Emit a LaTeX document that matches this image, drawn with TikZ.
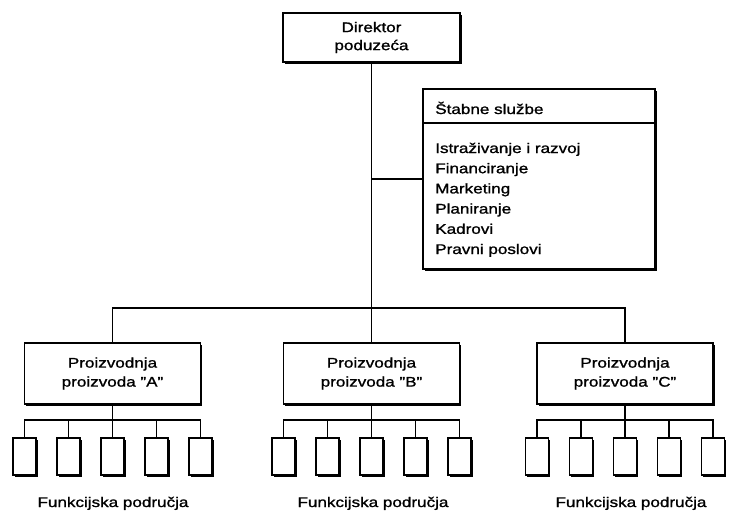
\documentclass[tikz,border=0pt]{standalone}
\usepackage{fontspec}
\setmainfont[FakeStretch=1.22,FakeBold=1.2]{Liberation Sans}
\usetikzlibrary{shadows}
\begin{document}
\begin{tikzpicture}[x=0.75pt,y=-0.75pt,
  box/.style={draw, line width=1.2pt, fill=white, inner sep=0pt, align=center,
    font=\fontsize{10.5pt}{13.5pt}\selectfont,
    drop shadow={shadow xshift=1.4pt, shadow yshift=-1.4pt, opacity=1, fill=black}},
  smallbox/.style={box, minimum width=17.25pt, minimum height=27.75pt},
  prodbox/.style={box, minimum width=132pt, minimum height=45.75pt,
    font=\fontsize{10.5pt}{14.25pt}\selectfont},
  conn/.style={line width=1.35pt},
  lbl/.style={inner sep=0pt, font=\fontsize{10.5pt}{13pt}\selectfont}]
\useasboundingbox (0,0) rectangle (731,515);

% director
\node[box, minimum width=132.75pt, minimum height=36.75pt] (dir) at (371.5,37.5) {Direktor\\poduzeća};

% staff box
\node[box, minimum width=174pt, minimum height=135pt] (staff) at (539,179) {};
\draw[line width=1.2pt] (staff.west |- 0,123) coordinate (divL) -- (staff.east |- 0,123) coordinate (divR);
\node[lbl, anchor=base west] (hdr) at (435,114) {Štabne službe};
\node[lbl, anchor=base west] (i1) at (435,153) {Istraživanje i razvoj};
\node[lbl, anchor=base west] (i2) at (435,173.2) {Financiranje};
\node[lbl, anchor=base west] (i3) at (435,193.4) {Marketing};
\node[lbl, anchor=base west] (i4) at (435,213.6) {Planiranje};
\node[lbl, anchor=base west] (i5) at (435,233.8) {Kadrovi};
\node[lbl, anchor=base west] (i6) at (435,254) {Pravni poslovi};

% main bus
\coordinate (busM) at (371.5,308);
\draw[conn] (dir.south) -- (busM);
\draw[conn] (dir.south |- staff.west) -- (staff.west);

% product groups
\foreach \g/\cx/\fx in {A/112.5/113, B/371.5/373, C/625/631} {
  \node[prodbox] (p\g) at (\cx,373.5) {Proizvodnja\\proizvoda "\g"};
  \foreach \k/\dx in {1/-88, 2/-44, 3/0, 4/44, 5/88} {
    \node[smallbox] (s\g\k) at (\cx+\dx,456.5) {};
  }
  \draw[conn] (s\g1.north) -- ++(0,-17) -| (s\g5.north);
  \draw[conn] (s\g2.north) -- ++(0,-17);
  \draw[conn] (s\g4.north) -- ++(0,-17);
  \draw[conn] (p\g.south) -- (s\g3.north);
  \node[lbl, anchor=base] (f\g) at (\fx,507) {Funkcijska područja};
}
\draw[conn] (pA.north) |- (busM) -| (pC.north);
\draw[conn] (busM) -- (pB.north);
\end{tikzpicture}
\end{document}
